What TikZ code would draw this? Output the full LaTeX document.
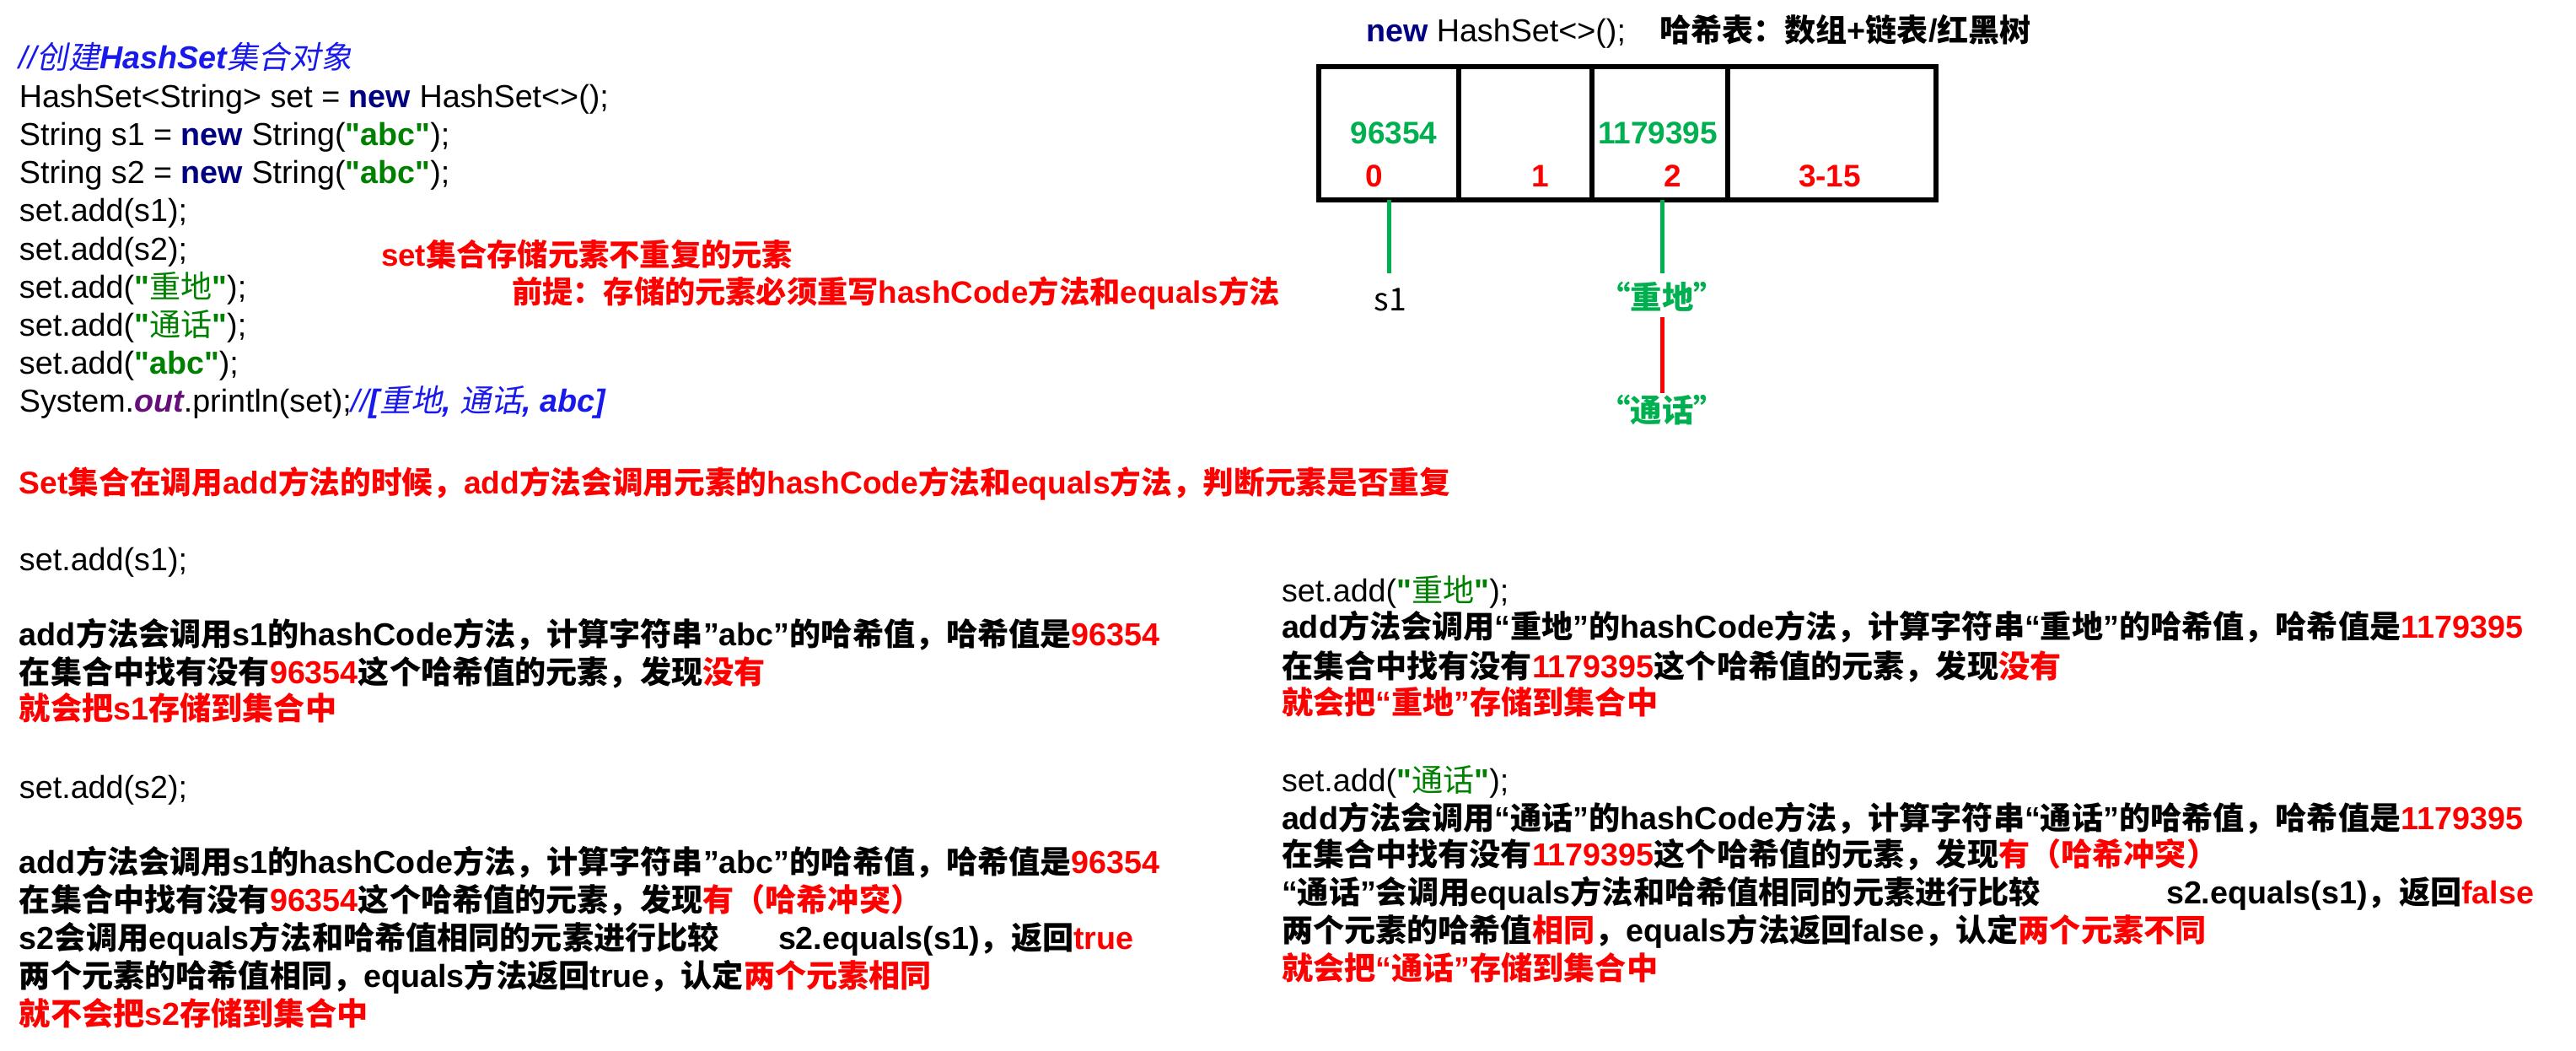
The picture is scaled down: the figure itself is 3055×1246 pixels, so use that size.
\documentclass[tikz,border=0pt]{standalone}
\usepackage{fontspec}
\setmainfont{Liberation Sans}[Ligatures=TeXOff]
\newfontfamily\cjk{Noto Sans CJK SC}[Scale=0.985]
\newfontfamily\cjkit{Noto Sans CJK SC}[Scale=0.985,FakeSlant=0.2]
\definecolor{rd}{RGB}{255,0,0}
\definecolor{gn}{RGB}{0,176,80}
\definecolor{cg}{RGB}{0,128,0}
\definecolor{kw}{RGB}{0,0,128}
\definecolor{cm}{RGB}{25,25,235}
\definecolor{pp}{RGB}{102,14,122}
\newcommand\zhx[1]{{\cjk #1}}
\newcommand\zix[1]{{\cjkit\mdseries\upshape #1}}
\newcommand\redx[1]{\textcolor{rd}{#1}}
\newcommand\kwnew{\textcolor{kw}{\bfseries new}}
\newcommand\gabc{\textcolor{cg}{\bfseries "abc"}}
\newcommand\gzh[1]{\textcolor{cg}{\textbf{"}\zhx{#1}\textbf{"}}}
\tikzset{
  codeln/.style={anchor=base west, inner sep=0pt, outer sep=0pt, font=\fontsize{18.85pt}{23pt}\selectfont},
  boldln/.style={codeln, font=\fontsize{18.85pt}{23pt}\selectfont\bfseries},
  noteln/.style={codeln, font=\fontsize{18.4pt}{23pt}\selectfont\bfseries},
  cellbox/.style={draw, line width=3pt, inner sep=0pt, outer sep=0pt, minimum height=79pt},
  tabnum/.style={anchor=base, inner sep=0pt, font=\fontsize{18.5pt}{22pt}\selectfont\bfseries},
  lab/.style={anchor=base, inner sep=0pt, outer sep=0pt, font=\cjk\fontsize{19pt}{23pt}\selectfont},
  gline/.style={draw=gn, line width=2.5pt},
  rline/.style={draw=rd, line width=2.5pt},
}
\begin{document}
\begin{tikzpicture}[x=0.5pt,y=-0.5pt]
\useasboundingbox (0,0) rectangle (3055,1246);
\fill[white] (0,0) rectangle (3055,1246);
% code block
\node[codeln] (a1) at (23,82) {\textcolor{cm}{\itshape //\zix{创建}\textbf{HashSet}\zix{集合对象}}};
\node[codeln] (a2) at (23,128) {HashSet<String> set = \kwnew{} HashSet<>();};
\node[codeln] (a3) at (23,173) {String s1 = \kwnew{} String(\gabc);};
\node[codeln] (a4) at (23,218) {String s2 = \kwnew{} String(\gabc);};
\node[codeln] (a5) at (23,263) {set.add(s1);};
\node[codeln] (a6) at (23,308) {set.add(s2);};
\node[codeln] (a7) at (23,353) {set.add(\gzh{重地});};
\node[codeln] (a8) at (23,398) {set.add(\gzh{通话});};
\node[codeln] (a9) at (23,443) {set.add(\gabc);};
\node[codeln] (a10) at (23,488) {System.\textcolor{pp}{\bfseries\itshape out}.println(set);\textcolor{cm}{\itshape //\textbf{[}\zix{重地}\textbf{, }\zix{通话}\textbf{, abc]}}};
% red notes
\node[noteln] (n1) at (452,315) {\redx{set\zhx{集合存储元素不重复的元素}}};
\node[noteln] (n2) at (607,359) {\redx{\zhx{前提：存储的元素必须重写}hashCode\zhx{方法和}equals\zhx{方法}}};
% lower left
\node[boldln, font=\fontsize{18.6pt}{23pt}\selectfont\bfseries] (b1) at (23,585) {\redx{Set\zhx{集合在调用}add\zhx{方法的时候，}add\zhx{方法会调用元素的}hashCode\zhx{方法和}equals\zhx{方法，判断元素是否重复}}};
\node[codeln] (b2) at (23,676) {set.add(s1);};
\node[boldln] (b3) at (23,765) {add\zhx{方法会调用}s1\zhx{的}hashCode\zhx{方法，计算字符串}”abc”\zhx{的哈希值，哈希值是}\redx{96354}};
\node[boldln] (b4) at (23,810) {\zhx{在集合中找有没有}\redx{96354}\zhx{这个哈希值的元素，发现}\redx{\zhx{没有}}};
\node[boldln] (b5) at (23,853) {\redx{\zhx{就会把}s1\zhx{存储到集合中}}};
\node[codeln] (b6) at (23,946) {set.add(s2);};
\node[boldln] (b7) at (23,1035) {add\zhx{方法会调用}s1\zhx{的}hashCode\zhx{方法，计算字符串}”abc”\zhx{的哈希值，哈希值是}\redx{96354}};
\node[boldln] (b8) at (23,1080) {\zhx{在集合中找有没有}\redx{96354}\zhx{这个哈希值的元素，发现}\redx{\zhx{有（哈希冲突）}}};
\node[boldln] (b9) at (23,1125) {s2\zhx{会调用}equals\zhx{方法和哈希值相同的元素进行比较}};
\node[boldln] (b9r) at (923,1125) {s2.equals(s1)\zhx{，返回}\redx{true}};
\node[boldln] (b10) at (23,1170) {\zhx{两个元素的哈希值相同，}equals\zhx{方法返回}true\zhx{，认定}\redx{\zhx{两个元素相同}}};
\node[boldln] (b11) at (23,1215) {\redx{\zhx{就不会把}s2\zhx{存储到集合中}}};
% lower right
\node[codeln] (c1) at (1520,713) {set.add(\gzh{重地});};
\node[boldln] (c2) at (1520,756) {add\zhx{方法会调用}“\zhx{重地}”\zhx{的}hashCode\zhx{方法，计算字符串}“\zhx{重地}”\zhx{的哈希值，哈希值是}\redx{1179395}};
\node[boldln] (c3) at (1520,803) {\zhx{在集合中找有没有}\redx{1179395}\zhx{这个哈希值的元素，发现}\redx{\zhx{没有}}};
\node[boldln] (c4) at (1520,846) {\redx{\zhx{就会把}“\zhx{重地}”\zhx{存储到集合中}}};
\node[codeln] (c5) at (1520,938) {set.add(\gzh{通话});};
\node[boldln] (c6) at (1520,983) {add\zhx{方法会调用}“\zhx{通话}”\zhx{的}hashCode\zhx{方法，计算字符串}“\zhx{通话}”\zhx{的哈希值，哈希值是}\redx{1179395}};
\node[boldln] (c7) at (1520,1026) {\zhx{在集合中找有没有}\redx{1179395}\zhx{这个哈希值的元素，发现}\redx{\zhx{有（哈希冲突）}}};
\node[boldln] (c8) at (1520,1071) {“\zhx{通话}”\zhx{会调用}equals\zhx{方法和哈希值相同的元素进行比较}};
\node[boldln] (c8r) at (2569,1071) {s2.equals(s1)\zhx{，返回}\redx{false}};
\node[boldln] (c9) at (1520,1116) {\zhx{两个元素的哈希值}\redx{\zhx{相同}}\zhx{，}equals\zhx{方法返回}false\zhx{，认定}\redx{\zhx{两个元素不同}}};
\node[boldln] (c10) at (1520,1161) {\redx{\zhx{就会把}“\zhx{通话}”\zhx{存储到集合中}}};
% hash table header
\node[codeln] (h1) at (1620,50) {\kwnew{} HashSet<>();};
\node[boldln] (h2) at (1968,50) {\zhx{哈希表：数组}+\zhx{链表}/\zhx{红黑树}};
% table cells
\node[cellbox, minimum width=83pt] (t0) at (1647,158) {};
\node[cellbox, minimum width=79pt] (t1) at (1809,158) {};
\node[cellbox, minimum width=80.5pt] (t2) at (1968.5,158) {};
\node[cellbox, minimum width=123.5pt] (t3) at (2172.5,158) {};
\node[tabnum, text=gn] (v0) at (1653,171) {96354};
\node[tabnum, text=gn] (v2) at (1966,171) {1179395};
\node[tabnum, text=rd] (i0) at (1630,221) {0};
\node[tabnum, text=rd] (i1) at (1827,221) {1};
\node[tabnum, text=rd] (i2) at (1984,221) {2};
\node[tabnum, text=rd] (i3) at (2170,221) {3-15};
% chain labels
\node[lab] (s1) at (1649,368) {s1};
\node[lab, text=gn, font=\cjk\fontsize{19pt}{23pt}\selectfont\bfseries] (zd) at (1971,366) {“重地”};
\node[lab, text=gn, font=\cjk\fontsize{19pt}{23pt}\selectfont\bfseries] (th) at (1971,500) {“通话”};
\draw[gline, shorten >=8.5pt] (t0.south) -- (t0.south |- s1.north);
\draw[gline, shorten >=5pt] (zd.north |- t2.south) -- (zd.north);
\draw[rline, shorten <=3.5pt, shorten >=1pt] (zd.south) -- (th.north);
\end{tikzpicture}
\end{document}
